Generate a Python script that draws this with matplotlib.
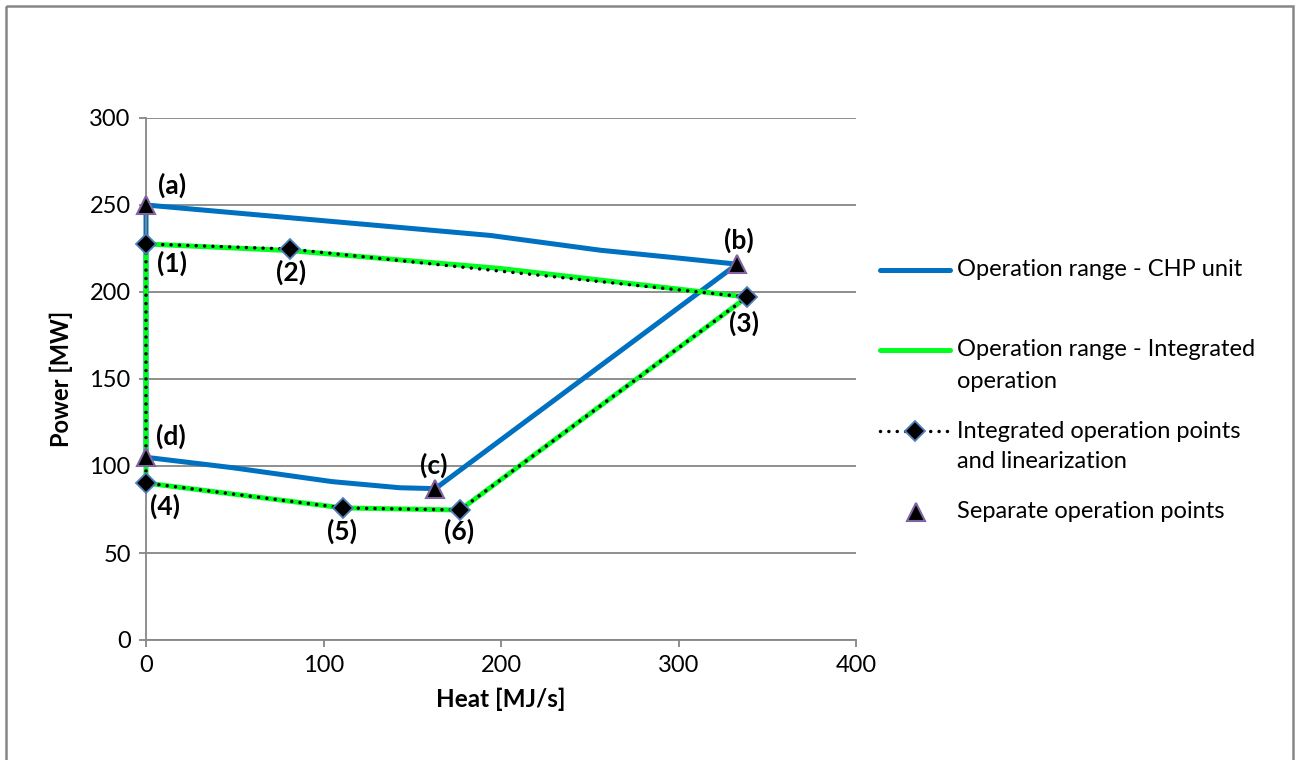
import numpy as np
import matplotlib.pyplot as plt
from matplotlib.lines import Line2D
from matplotlib.patches import Rectangle

plt.rcParams['font.family'] = ['Lato', 'DejaVu Sans']

# CHP unit operating region (heat MJ/s, power MW), closed polygon a -> b -> c -> d -> a
chp_heat = [0, 194, 256, 300, 333, 163, 143, 105, 49, 0, 0]
chp_power = [250, 232.5, 224, 219.5, 216, 87, 87.5, 91, 99, 105, 250]

# integrated operation region outline
int_heat = [0, 81, 199, 338.6, 176.9, 111, 0, 0]
int_power = [227.6, 223.8, 213.6, 197.1, 74.7, 75.9, 90.2, 227.6]

# linearization points (1) .. (6), ordered around the region
lin_heat = [0, 81, 338.6, 176.9, 111, 0, 0]
lin_power = [227.6, 224.7, 197.1, 74.7, 75.9, 90.2, 227.6]
lin_labels = ["(1)", "(2)", "(3)", "(6)", "(5)", "(4)"]

# separate operation points (a) .. (d)
sep_heat = [0, 333, 163, 0]
sep_power = [250, 216, 87, 105]
sep_labels = ["(a)", "(b)", "(c)", "(d)"]

BLUE = "#0070C0"
GREEN = "#00FF1E"
GRAY = "#868686"
DOTS = (0, (0.01, 2.4))

fig = plt.figure(figsize=(12.95, 7.6), dpi=100)
ax = fig.add_axes([146/1295, 1-640/760, 710/1295, 522/760])

ax.plot(chp_heat, chp_power, color=BLUE, lw=3.6, solid_joinstyle="round", zorder=2,
        clip_on=False)
ax.plot(int_heat, int_power, color=GREEN, lw=3.6, solid_joinstyle="round", zorder=3,
        clip_on=False)
ax.plot(lin_heat, lin_power, color="black", lw=2.5, linestyle=DOTS,
        dash_capstyle="round", zorder=4, clip_on=False)
ax.plot(lin_heat[:-1], lin_power[:-1], linestyle="none", marker="D", ms=10,
        mfc="black", mec="#4F81BD", mew=1.3, zorder=5, clip_on=False)
ax.plot(sep_heat, sep_power, linestyle="none", marker="^", ms=13,
        mfc="black", mec="#8064A2", mew=1.5, zorder=6, clip_on=False)

# point labels, offsets in points
lin_off = [(19, -14), (1, -17), (-2, -19), (-1, -15), (-1, -17), (14, -17)]
sep_off = [(19, 14), (1, 17), (-1, 17), (18, 15)]
for x, y, s, o in zip(lin_heat, lin_power, lin_labels, lin_off):
    ax.annotate(s, (x, y), xytext=o, textcoords="offset points", ha="center",
                va="center", fontsize=19, fontweight="bold", zorder=7)
for x, y, s, o in zip(sep_heat, sep_power, sep_labels, sep_off):
    ax.annotate(s, (x, y), xytext=o, textcoords="offset points", ha="center",
                va="center", fontsize=19, fontweight="bold", zorder=7)

ax.set_xlim(0, 400)
ax.set_ylim(0, 300)
ax.set_xticks(np.arange(0, 401, 100))
ax.set_yticks(np.arange(0, 301, 50))
ax.grid(axis="y", color=GRAY, lw=1.3)
ax.set_axisbelow(True)
for s in ["top", "right"]:
    ax.spines[s].set_visible(False)
for s in ["left", "bottom"]:
    ax.spines[s].set_color(GRAY)
    ax.spines[s].set_linewidth(1.3)
ax.tick_params(length=5, width=1.3, color=GRAY, labelsize=17, pad=6)
ax.set_xlabel("Heat [MJ/s]", fontsize=17.5, fontweight="bold", labelpad=8)
ax.set_ylabel("Power [MW]", fontsize=17, fontweight="bold", labelpad=12)

# legend and outer frame drawn in pixel space
lax = fig.add_axes([0, 0, 1, 1])
lax.set_xlim(0, 1295)
lax.set_ylim(760, 0)
lax.axis("off")
lax.add_patch(Rectangle((6, 6), 1287, 780, fill=False, ec=GRAY, lw=1.8))

tx = 957
lax.add_line(Line2D([880, 950], [270, 270], color=BLUE, lw=3.6, solid_capstyle="round"))
lax.text(tx, 270, "Operation range - CHP unit", fontsize=17, va="center")
lax.add_line(Line2D([880, 950], [350, 350], color=GREEN, lw=3.6, solid_capstyle="round"))
lax.text(tx, 350, "Operation range - Integrated", fontsize=17, va="center")
lax.text(tx, 381, "operation", fontsize=17, va="center")
lax.add_line(Line2D([880, 950], [431, 431], color="black", lw=2.5,
                    linestyle=DOTS, dash_capstyle="round"))
lax.plot([915], [431], marker="D", ms=10, mfc="black", mec="#4F81BD", mew=1.3)
lax.text(tx, 431, "Integrated operation points", fontsize=17, va="center")
lax.text(tx, 462, "and linearization", fontsize=17, va="center")
lax.plot([916], [512], marker="^", ms=13, mfc="black", mec="#8064A2", mew=1.5)
lax.text(tx, 512, "Separate operation points", fontsize=17, va="center")

fig.savefig("out.png", dpi=100)
